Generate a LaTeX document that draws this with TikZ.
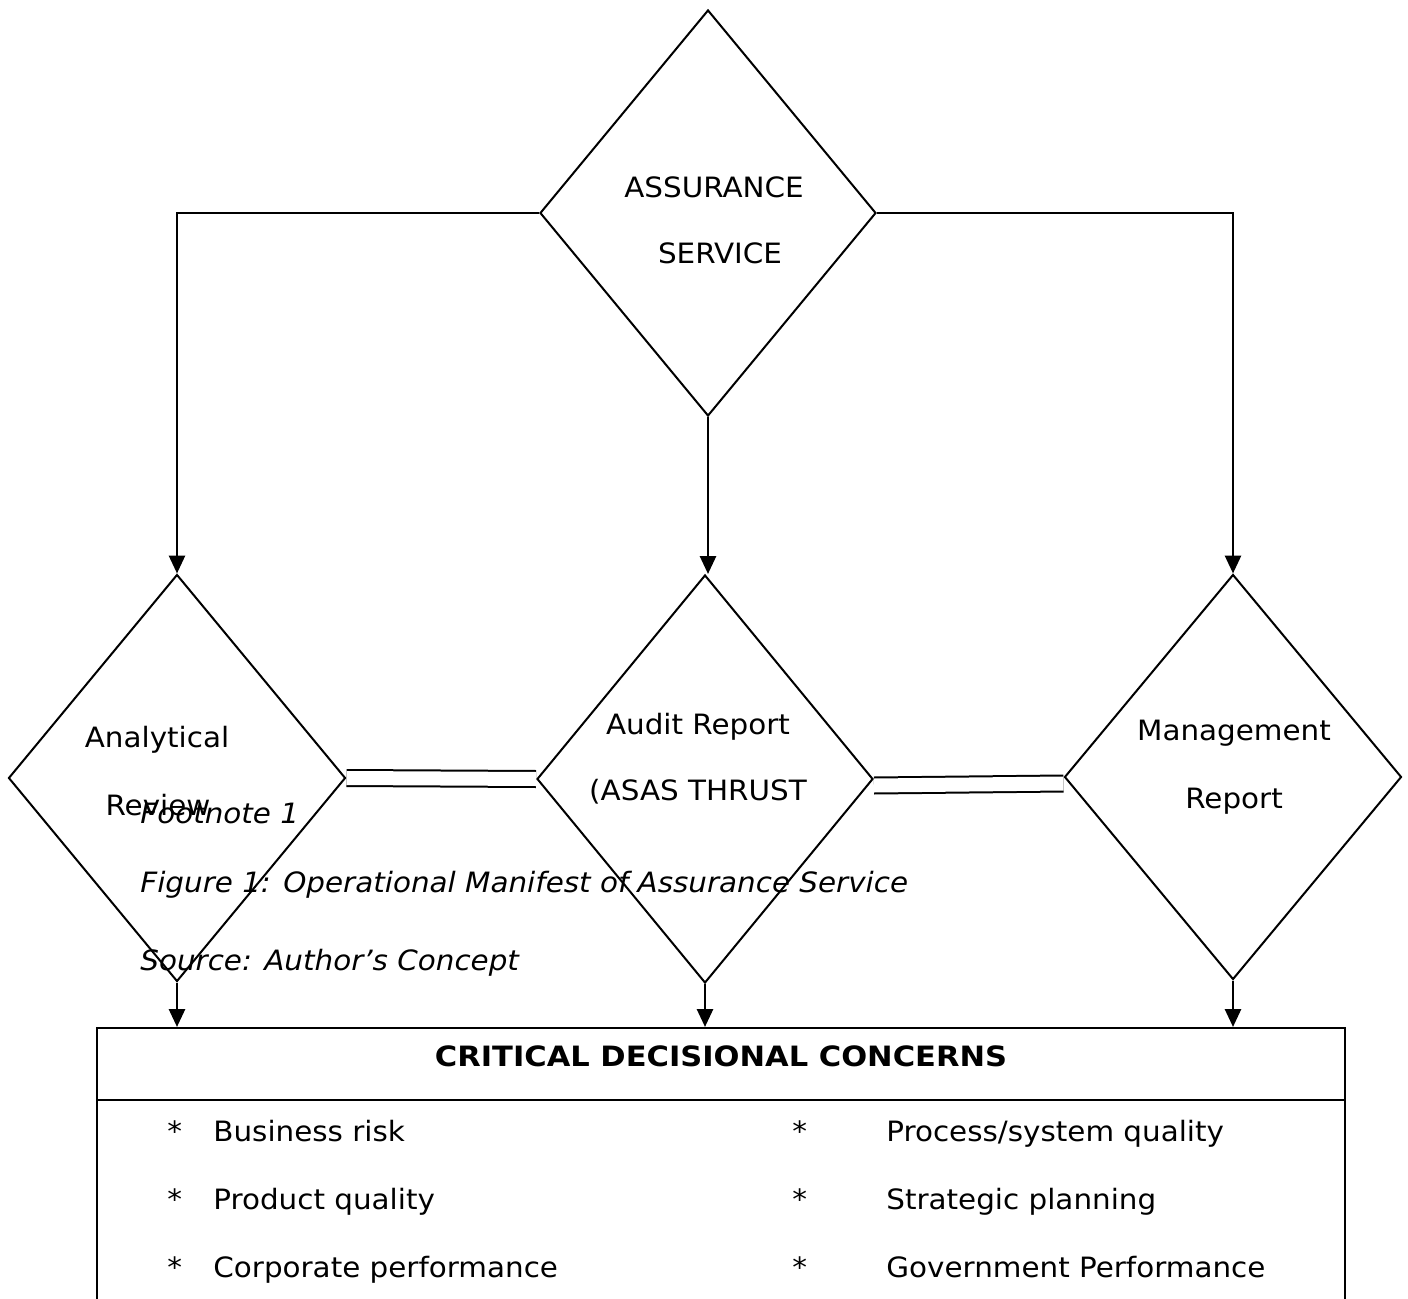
\documentclass[tikz,border=0pt]{standalone}
\usepackage{fontspec}
\setmainfont{DejaVu Sans}[FakeStretch=1.05]
\newfontfamily\headfont{DejaVu Sans}[FakeStretch=1.09]
\usetikzlibrary{arrows.meta,shapes.geometric,positioning}

\tikzset{
	dia/.style={draw, diamond, line width=1pt, inner sep=0pt},
	arr/.style={line width=1.4pt, -{Triangle[length=9pt,width=8pt]}},
	dbl/.style={double, double distance=7pt, line width=1pt},
	lbl/.style={font=\fontsize{14}{16}\selectfont, inner sep=0pt, anchor=base},
	note/.style={font=\fontsize{14}{16}\selectfont\itshape, inner sep=0pt, anchor=base west},
	item/.style={font=\fontsize{14}{16}\selectfont, inner sep=0pt, anchor=base west},
}

\begin{document}
\begin{tikzpicture}[x=0.5pt,y=-0.5pt]
	\useasboundingbox (0,0) rectangle (1408,1299);
	\clip (0,0) rectangle (1408,1299);
	
	\node[dia, minimum width=168pt, minimum height=203pt] (as) at (708,213) {};
	\node[dia, minimum width=168.5pt, minimum height=203.5pt] (ar) at (177,778) {};
	\node[dia, minimum width=168pt, minimum height=204pt] (aud) at (705,779) {};
	\node[dia, minimum width=168.5pt, minimum height=202.5pt] (mr) at (1233,777) {};
	
	\node[draw, line width=1pt, minimum width=624pt, minimum height=142pt, inner sep=0pt] (crit) at (721,1170) {};
	\coordinate (hl) at (97,1100);
	\coordinate (hr) at (1345,1100);
	\draw[line width=1pt] (hl) -- (hr);
	
	
	
	\draw[arr] (as.west) -| (ar.north);
	\draw[arr] (as.east) -| (mr.north);
	\draw[arr] (as.south) -- (as.south |- aud.north);
	
	\draw[arr] (ar.south) -- (ar.south |- crit.north);
	\draw[arr] (aud.south) -- (aud.south |- crit.north);
	\draw[arr] (mr.south) -- (mr.south |- crit.north);
	
	\draw[dbl] (ar.east) -- (aud.west);
	\draw[dbl] ([yshift=-3.25pt]aud.east) -- ([yshift=-3.25pt]mr.west);
	
	
	
	\node[lbl] (as1) at (714,198) {ASSURANCE};
	\node[lbl] (as2) at (720,264) {SERVICE};
	\node[lbl] (ar1) at (157,747) {Analytical};
	\node[lbl] (ar2) at (158,815) {Review};
	\node[lbl] (aud1) at (698,734) {Audit Report};
	\node[lbl] (aud2) at (698,800) {(ASAS THRUST};
	\node[lbl] (mr1) at (1234,740) {Management};
	\node[lbl] (mr2) at (1234,808) {Report};
	
	\node[note] (fn) at (140,823) {Footnote 1};
	\node[note] (fig) at (140,892) {Figure 1: Operational Manifest of Assurance Service};
	\node[note] (src) at (140,970) {Source: Author’s Concept};
	
	\node[lbl, font=\fontsize{14}{16}\selectfont\headfont\bfseries] (head) at (721,1066) {CRITICAL DECISIONAL CONCERNS};
	
	\node[item] (s1) at (167,1141) {*};
	\node[item] (i1) at (213,1141) {Business risk};
	\node[item] (s2) at (167,1209) {*};
	\node[item] (i2) at (213,1209) {Product quality};
	\node[item] (s3) at (167,1277) {*};
	\node[item] (i3) at (213,1277) {Corporate performance};
	\node[item] (s4) at (792,1141) {*};
	\node[item] (i4) at (886,1141) {Process/system quality};
	\node[item] (s5) at (792,1209) {*};
	\node[item] (i5) at (886,1209) {Strategic planning};
	\node[item] (s6) at (792,1277) {*};
	\node[item] (i6) at (886,1277) {Government Performance};
	
\end{tikzpicture}
\end{document}
